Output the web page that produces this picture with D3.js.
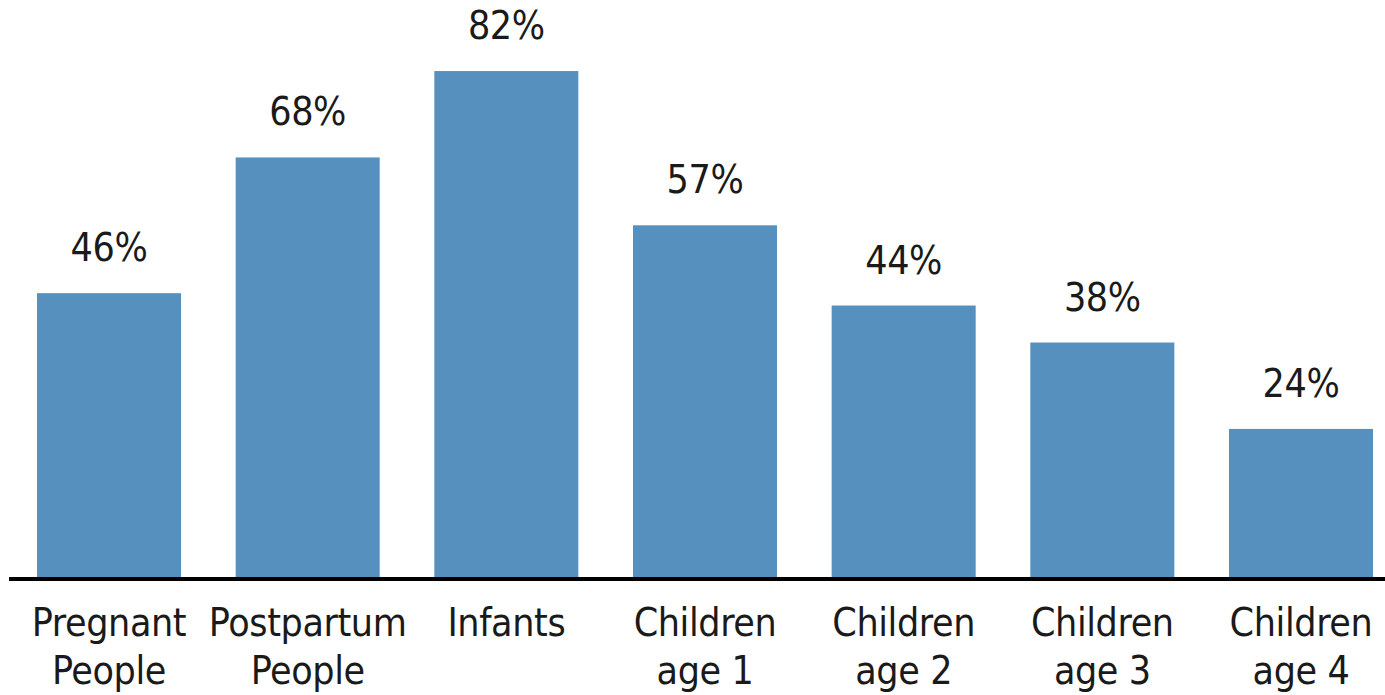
<!DOCTYPE html>
<html>
<head>
<meta charset="utf-8">
<script src="https://cdn.jsdelivr.net/npm/d3@7"></script>
<style>
  body { margin: 0; background: #fff; }
  text { font-family: "DejaVu Sans Condensed", "Liberation Sans Narrow", sans-serif; fill: #1a1a1a; letter-spacing: -0.4px; }
</style>
</head>
<body>
<svg id="chart" width="1385" height="695"></svg>
<script>
const categories = [
  ["Pregnant", "People"],
  ["Postpartum", "People"],
  ["Infants"],
  ["Children", "age 1"],
  ["Children", "age 2"],
  ["Children", "age 3"],
  ["Children", "age 4"]
];
const values = [46, 68, 82, 57, 44, 38, 24];

const BASELINE = 577;
const FONT_SIZE = 39;

const svg = d3.select("svg#chart");

const xScale = d3.scaleBand()
  .domain(d3.range(categories.length))
  .range([37, 1373])
  .paddingInner(0.275)
  .paddingOuter(0);

const yScale = d3.scaleLinear()
  .domain([0, 100])
  .range([BASELINE, BASELINE - 617]);

svg.selectAll("rect.bar")
  .data(values)
  .enter()
  .append("rect")
  .attr("class", "bar")
  .attr("x", (d, i) => xScale(i))
  .attr("width", xScale.bandwidth())
  .attr("y", d => yScale(d))
  .attr("height", d => yScale(0) - yScale(d))
  .attr("fill", "#5590bf");

svg.selectAll("text.value")
  .data(values)
  .enter()
  .append("text")
  .attr("class", "value")
  .attr("x", (d, i) => xScale(i) + xScale.bandwidth() / 2)
  .attr("y", d => yScale(d) - 32)
  .attr("text-anchor", "middle")
  .attr("font-size", FONT_SIZE)
  .text(d => `${d}%`);

// baseline
svg.append("line")
  .attr("x1", 9)
  .attr("x2", 1385)
  .attr("y1", yScale(0) + 2)
  .attr("y2", yScale(0) + 2)
  .attr("stroke", "#000")
  .attr("stroke-width", 4);

const labels = svg.selectAll("text.cat")
  .data(categories)
  .enter()
  .append("text")
  .attr("class", "cat")
  .attr("text-anchor", "middle")
  .attr("font-size", FONT_SIZE)
  .attr("x", (d, i) => xScale(i) + xScale.bandwidth() / 2)
  .attr("y", 636);

labels.selectAll("tspan")
  .data(d => d)
  .enter()
  .append("tspan")
  .attr("x", function () { return d3.select(this.parentNode).attr("x"); })
  .attr("dy", (d, i) => i === 0 ? 0 : 48)
  .text(d => d);
</script>
</body>
</html>
